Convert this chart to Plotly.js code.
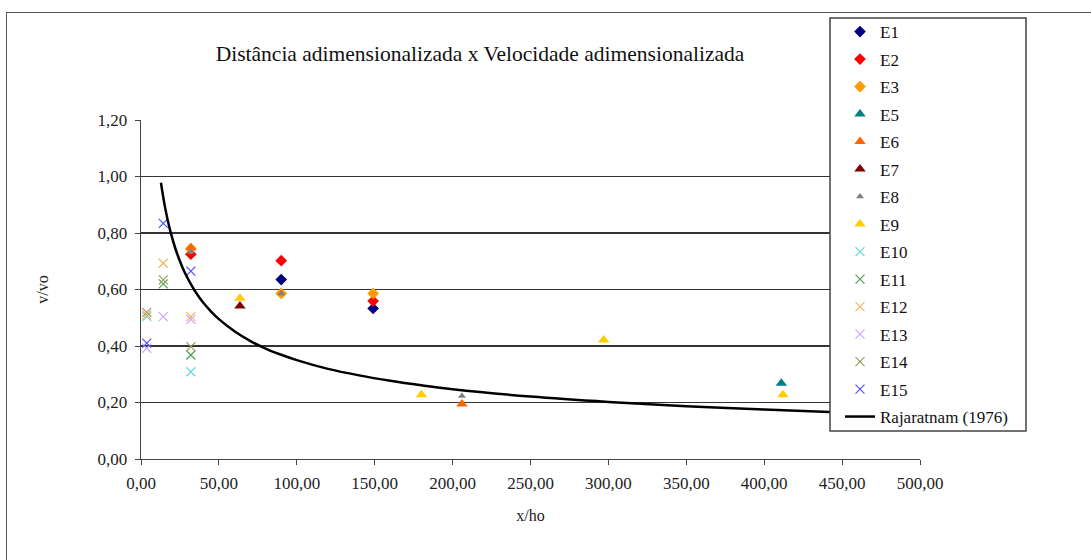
<!DOCTYPE html>
<html>
<head>
<meta charset="utf-8">
<script src="https://cdn.plot.ly/plotly-3.0.1.min.js"></script>
<style>
  html, body { margin: 0; padding: 0; background: #fff; }
  #wrap { position: relative; width: 1091px; height: 560px; overflow: hidden; }
  #frame { position: absolute; left: 6px; top: 12px; width: 1200px; height: 700px; border: 1.5px solid #555; box-sizing: border-box; }
  #chart { position: absolute; left: 0; top: 0; width: 1091px; height: 560px; }
</style>
</head>
<body>
<div id="wrap">
  <div id="frame"></div>
  <div id="chart"></div>
</div>
<script>
// ---- data ----
const e1x = [90, 149];            const e1y = [0.635, 0.533];
const e2x = [32, 90, 149];        const e2y = [0.725, 0.702, 0.559];
const e3x = [32, 90, 149];        const e3y = [0.745, 0.586, 0.586];
const e5x = [411];                const e5y = [0.268];
const e6x = [32, 206];            const e6y = [0.748, 0.195];
const e7x = [63.5];               const e7y = [0.542];
const e8x = [32, 90, 206];        const e8y = [0.734, 0.586, 0.223];
const e9x = [63.5, 180, 297, 412];const e9y = [0.569, 0.227, 0.421, 0.227];
const e10x = [3.7, 32];           const e10y = [0.504, 0.309];
const e11x = [14.3, 32];          const e11y = [0.620, 0.368];
const e12x = [3.7, 14.3, 32];     const e12y = [0.510, 0.693, 0.504];
const e13x = [3.7, 14.3, 32];     const e13y = [0.392, 0.504, 0.494];
const e14x = [3.7, 14.3, 32];     const e14y = [0.519, 0.634, 0.398];
const e15x = [3.7, 14.3, 32];     const e15y = [0.410, 0.834, 0.665];
// Rajaratnam (1976) curve
const rajX = [12.8, 15, 17, 19, 22, 25, 28, 32, 36, 40, 45, 50, 60, 70, 80, 90, 100, 120, 140, 160, 180, 200, 250, 300, 350, 400, 450, 500];
const rajY = [0.978, 0.904, 0.849, 0.803, 0.746, 0.700, 0.661, 0.619, 0.583, 0.553, 0.522, 0.495, 0.452, 0.418, 0.391, 0.369, 0.350, 0.319, 0.296, 0.277, 0.261, 0.247, 0.221, 0.202, 0.187, 0.175, 0.165, 0.157];
const xTicks = [0, 50, 100, 150, 200, 250, 300, 350, 400, 450, 500];
const yTicks = [0, 0.2, 0.4, 0.6, 0.8, 1.0, 1.2];

const serif = "'Liberation Serif', 'Times New Roman', serif";

function pts(name, x, y, symbol, color, size, lw) {
  const m = {symbol: symbol, color: color, size: size};
  if (symbol.indexOf('x') === 0) m.line = {color: color, width: lw || 1.2};
  else m.line = {width: 0};
  return {type: 'scatter', mode: 'markers', name: name, x: x, y: y, marker: m, legendgroup: name, cliponaxis: false};
}

const traces = [
  pts('E1', e1x, e1y, 'diamond', '#000080', 9),
  pts('E2', e2x, e2y, 'diamond', '#FF0000', 9),
  pts('E3', e3x, e3y, 'diamond', '#FF9900', 9),
  pts('E5', e5x, e5y, 'triangle-up', '#008080', 10),
  pts('E6', e6x, e6y, 'triangle-up', '#FF6600', 10),
  pts('E7', e7x, e7y, 'triangle-up', '#800000', 10),
  pts('E8', e8x, e8y, 'triangle-up', '#808080', 7),
  pts('E9', e9x, e9y, 'triangle-up', '#FFCC00', 10),
  pts('E10', e10x, e10y, 'x-thin-open', '#66D9D9', 9),
  pts('E11', e11x, e11y, 'x-thin-open', '#4FA34F', 9),
  pts('E12', e12x, e12y, 'x-thin-open', '#FFB062', 9),
  pts('E13', e13x, e13y, 'x-thin-open', '#C9A8FF', 9),
  pts('E14', e14x, e14y, 'x-thin-open', '#9C9C5C', 9),
  pts('E15', e15x, e15y, 'x-thin-open', '#5050FF', 9),
  {type: 'scatter', mode: 'lines', name: 'Rajaratnam (1976)', x: rajX, y: rajY,
   line: {color: '#000', width: 2.5, shape: 'spline'}, legendgroup: 'raj'}
];

const L = 141, R = 920, T = 120, B = 459;
const W = 1091, H = 560;
const px2x = p => (p - L) / (R - L);
const py2y = p => (B - p) / (B - T);

const layout = {
  width: W, height: H,
  margin: {l: L, r: W - R, t: T, b: H - B, pad: 0},
  paper_bgcolor: 'rgba(0,0,0,0)',
  plot_bgcolor: 'rgba(0,0,0,0)',
  separators: ',.',
  font: {family: serif, color: '#222', size: 17},
  title: {text: 'Distância adimensionalizada x Velocidade adimensionalizada',
          font: {family: serif, size: 21.5, color: '#111'},
          xref: 'container', yref: 'container', x: 480 / W, y: 1 - 53 / H,
          xanchor: 'center', yanchor: 'middle'},
  xaxis: {range: [0, 500], tickvals: xTicks, tickformat: '.2f', ticks: 'outside', ticklen: 5,
          tickcolor: '#444', showline: true, linecolor: '#444', linewidth: 1.3, showgrid: false,
          zeroline: false, ticklabelstandoff: 3, tickfont: {family: serif, size: 17, color: '#222'},
          title: {text: 'x/ho', font: {family: serif, size: 16, color: '#222'}, standoff: 18}},
  yaxis: {range: [0, 1.2], tickvals: yTicks, tickformat: '.2f', ticks: 'outside', ticklen: 5,
          tickcolor: '#444', showline: true, linecolor: '#444', linewidth: 1.3, showgrid: true,
          gridcolor: '#333', gridwidth: 1.2, zeroline: false, ticklabelstandoff: 4,
          tickfont: {family: serif, size: 17, color: '#222'},
          title: {text: 'v/vo', font: {family: serif, size: 16, color: '#222'}, standoff: 45}},
  showlegend: true,
  legend: {x: px2x(840), y: py2y(14), xanchor: 'left', yanchor: 'top', maxheight: 1,
           bgcolor: 'rgba(0,0,0,0)', borderwidth: 0, traceorder: 'grouped', tracegroupgap: 2.4,
           font: {family: serif, size: 17, color: '#111'}},
  shapes: [{type: 'rect', xref: 'paper', yref: 'paper', layer: 'above',
            x0: px2x(830), x1: px2x(1026), y0: py2y(431), y1: py2y(18),
            fillcolor: '#fff', line: {color: '#444', width: 1.5}}]
};

Plotly.newPlot('chart', traces, layout, {staticPlot: true, displayModeBar: false});
</script>
</body>
</html>
